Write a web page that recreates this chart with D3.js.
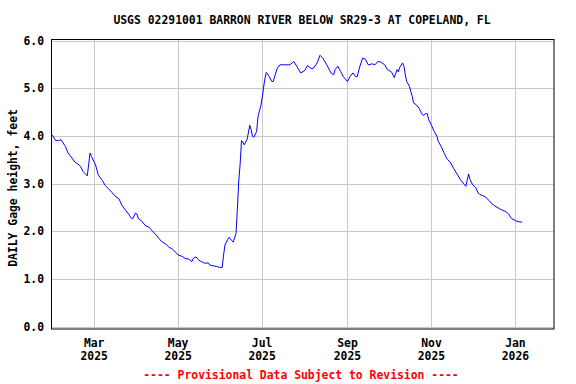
<!DOCTYPE html>
<html lang="en">
<head>
<meta charset="UTF-8" />
<title>USGS 02291001 Barron River below SR29-3 at Copeland, FL</title>
<style>
  body { margin: 0; background: #fff; }
  svg text { font-family: "DejaVu Sans Mono", monospace; font-weight: bold; }
</style>
</head>
<body>
<script src="https://cdn.jsdelivr.net/npm/d3@7"></script>
<div id="app"></div>
<script>
// DATA - daily gage height (feet)
const dates = [
  "2025-01-29","2025-01-30","2025-02-01","2025-02-03","2025-02-05","2025-02-06","2025-02-08","2025-02-10",
  "2025-02-13","2025-02-15","2025-02-18","2025-02-19","2025-02-21","2025-02-24","2025-02-25","2025-02-26",
  "2025-02-27","2025-03-02","2025-03-04","2025-03-07","2025-03-09","2025-03-11","2025-03-14","2025-03-16",
  "2025-03-19","2025-03-21","2025-03-24","2025-03-26","2025-03-28","2025-03-29","2025-03-31","2025-04-01",
  "2025-04-02","2025-04-05","2025-04-07","2025-04-10","2025-04-12","2025-04-15","2025-04-17","2025-04-19",
  "2025-04-22","2025-04-24","2025-04-27","2025-04-29","2025-05-01","2025-05-04","2025-05-06","2025-05-09",
  "2025-05-11","2025-05-12","2025-05-14","2025-05-16","2025-05-18","2025-05-20","2025-05-23","2025-05-24",
  "2025-05-27","2025-05-29","2025-05-31","2025-06-02","2025-06-03","2025-06-04","2025-06-06","2025-06-07",
  "2025-06-09","2025-06-10","2025-06-12","2025-06-13","2025-06-14","2025-06-15","2025-06-16","2025-06-17",
  "2025-06-18","2025-06-20","2025-06-21","2025-06-22","2025-06-23","2025-06-24","2025-06-25","2025-06-27",
  "2025-06-28","2025-06-29","2025-06-30","2025-07-01","2025-07-02","2025-07-03","2025-07-04","2025-07-06",
  "2025-07-08","2025-07-09","2025-07-12","2025-07-14","2025-07-18","2025-07-21","2025-07-22","2025-07-24",
  "2025-07-27","2025-07-29","2025-08-01","2025-08-03","2025-08-05","2025-08-07","2025-08-10","2025-08-12",
  "2025-08-14","2025-08-17","2025-08-20","2025-08-22","2025-08-23","2025-08-25","2025-08-27","2025-08-29",
  "2025-09-01","2025-09-03","2025-09-05","2025-09-07","2025-09-08","2025-09-10","2025-09-12","2025-09-14",
  "2025-09-16","2025-09-19","2025-09-21","2025-09-23","2025-09-25","2025-09-28","2025-09-30","2025-10-03",
  "2025-10-05","2025-10-07","2025-10-08","2025-10-09","2025-10-11","2025-10-12","2025-10-13","2025-10-14",
  "2025-10-16","2025-10-17","2025-10-18","2025-10-19","2025-10-21","2025-10-23","2025-10-25","2025-10-26",
  "2025-10-28","2025-10-29","2025-10-30","2025-11-01","2025-11-03","2025-11-05","2025-11-06","2025-11-08",
  "2025-11-10","2025-11-12","2025-11-15","2025-11-17","2025-11-20","2025-11-22","2025-11-24","2025-11-26",
  "2025-11-27","2025-11-28","2025-11-29","2025-12-01","2025-12-03","2025-12-05","2025-12-06","2025-12-08",
  "2025-12-10","2025-12-12","2025-12-15","2025-12-17","2025-12-21","2025-12-25","2025-12-27","2025-12-29",
  "2026-01-01","2026-01-03","2026-01-06"
];
const heights = [
  4.03,4.00,3.90,3.90,3.92,3.87,3.78,3.64,
  3.53,3.45,3.39,3.36,3.25,3.16,3.40,3.64,
  3.57,3.39,3.18,3.06,2.96,2.90,2.81,2.74,
  2.68,2.55,2.43,2.36,2.27,2.26,2.38,2.36,
  2.27,2.20,2.12,2.08,2.01,1.92,1.85,1.78,
  1.73,1.67,1.62,1.56,1.50,1.47,1.43,1.41,
  1.36,1.43,1.46,1.39,1.36,1.33,1.33,1.29,
  1.27,1.26,1.24,1.24,1.50,1.71,1.83,1.87,
  1.80,1.77,1.95,2.45,3.05,3.40,3.90,3.87,
  3.81,3.92,4.06,4.22,4.13,3.99,3.97,4.09,
  4.40,4.52,4.62,4.79,5.00,5.20,5.33,5.25,
  5.14,5.14,5.42,5.49,5.49,5.49,5.51,5.56,
  5.42,5.32,5.37,5.48,5.42,5.41,5.53,5.69,
  5.63,5.49,5.32,5.28,5.39,5.46,5.35,5.24,
  5.14,5.25,5.32,5.24,5.24,5.46,5.63,5.61,
  5.49,5.51,5.49,5.56,5.55,5.49,5.39,5.34,
  5.22,5.39,5.34,5.44,5.53,5.46,5.28,5.14,
  5.04,4.93,4.83,4.69,4.65,4.58,4.46,4.43,
  4.47,4.46,4.34,4.22,4.09,3.99,3.88,3.78,
  3.65,3.53,3.43,3.32,3.18,3.08,3.01,2.94,
  3.08,3.20,3.08,2.97,2.92,2.80,2.77,2.75,
  2.72,2.67,2.57,2.53,2.46,2.41,2.36,2.27,
  2.22,2.20,2.19
];
const yTicks = [0, 1, 2, 3, 4, 5, 6];
const xTicks = ["2025-03-01","2025-05-01","2025-07-01","2025-09-01","2025-11-01","2026-01-01"];
const xTickMonths = ["Mar","May","Jul","Sep","Nov","Jan"];
const xTickYears = ["2025","2025","2025","2025","2025","2026"];
const xDomain = ["2025-01-29","2026-01-29"];

const title = "USGS 02291001 BARRON RIVER BELOW SR29-3 AT COPELAND, FL";
const yLabel = "DAILY Gage height, feet";
const footer = "---- Provisional Data Subject to Revision ----";

// SVG
const w = 576;
const h = 384;
const padLeft = 51, padRight = 553.5, padTop = 39.5, padBottom = 329;
const parse = d3.utcParse("%Y-%m-%d");

const svg = d3.select("#app")
  .append("svg")
  .attr("width", w)
  .attr("height", h);

// Scales
const xScale = d3.scaleUtc()
  .domain(xDomain.map(parse))
  .range([padLeft + 0.5, padRight + 0.5]);

const yScale = d3.scaleLinear()
  .domain([0, 6])
  .range([326.5, 40.5]);

// Gridlines
svg.append("g")
  .selectAll("line")
  .data(yTicks)
  .enter()
  .append("line")
  .attr("x1", padLeft)
  .attr("x2", padRight)
  .attr("y1", d => Math.round(yScale(d)) + 0.5)
  .attr("y2", d => Math.round(yScale(d)) + 0.5)
  .attr("stroke", "#c8c8c8")
  .attr("stroke-width", 1);

svg.append("g")
  .selectAll("line")
  .data(xTicks)
  .enter()
  .append("line")
  .attr("x1", d => Math.round(xScale(parse(d))) + 0.5)
  .attr("x2", d => Math.round(xScale(parse(d))) + 0.5)
  .attr("y1", padTop)
  .attr("y2", padBottom)
  .attr("stroke", "#c8c8c8")
  .attr("stroke-width", 1);

// Line
const line = d3.line()
  .x((d, i) => xScale(parse(dates[i])))
  .y(d => yScale(d));

svg.append("path")
  .datum(heights)
  .attr("d", line)
  .attr("fill", "none")
  .attr("stroke", "#0000ff")
  .attr("stroke-width", 1);

// Frame
svg.append("rect")
  .attr("x", padLeft + 0.5)
  .attr("y", padTop)
  .attr("width", padRight - padLeft)
  .attr("height", padBottom - padTop)
  .attr("fill", "none")
  .attr("stroke", "#000")
  .attr("stroke-width", 1);

// Tick labels
svg.append("g")
  .selectAll("text")
  .data(yTicks)
  .enter()
  .append("text")
  .attr("x", 44)
  .attr("y", d => yScale(d) + 4)
  .attr("text-anchor", "end")
  .style("font-size", "11.4px")
  .text(d => d.toFixed(1));

const xl = svg.append("g")
  .selectAll("g")
  .data(xTicks)
  .enter()
  .append("g");

xl.append("text")
  .attr("x", d => xScale(parse(d)))
  .attr("y", 347)
  .attr("text-anchor", "middle")
  .style("font-size", "11.4px")
  .text((d, i) => xTickMonths[i]);

xl.append("text")
  .attr("x", d => xScale(parse(d)))
  .attr("y", 360)
  .attr("text-anchor", "middle")
  .style("font-size", "11.4px")
  .text((d, i) => xTickYears[i]);

// Title, axis label, footer
svg.append("text")
  .attr("x", 302)
  .attr("y", 24)
  .attr("text-anchor", "middle")
  .style("font-size", "11.4px")
  .text(title);

svg.append("text")
  .attr("transform", "translate(17,188) rotate(-90)")
  .attr("text-anchor", "middle")
  .style("font-size", "11.4px")
  .text(yLabel);

svg.append("text")
  .attr("x", 301)
  .attr("y", 379)
  .attr("text-anchor", "middle")
  .attr("fill", "#ff0000")
  .style("font-size", "11.4px")
  .text(footer);
</script>
</body>
</html>
